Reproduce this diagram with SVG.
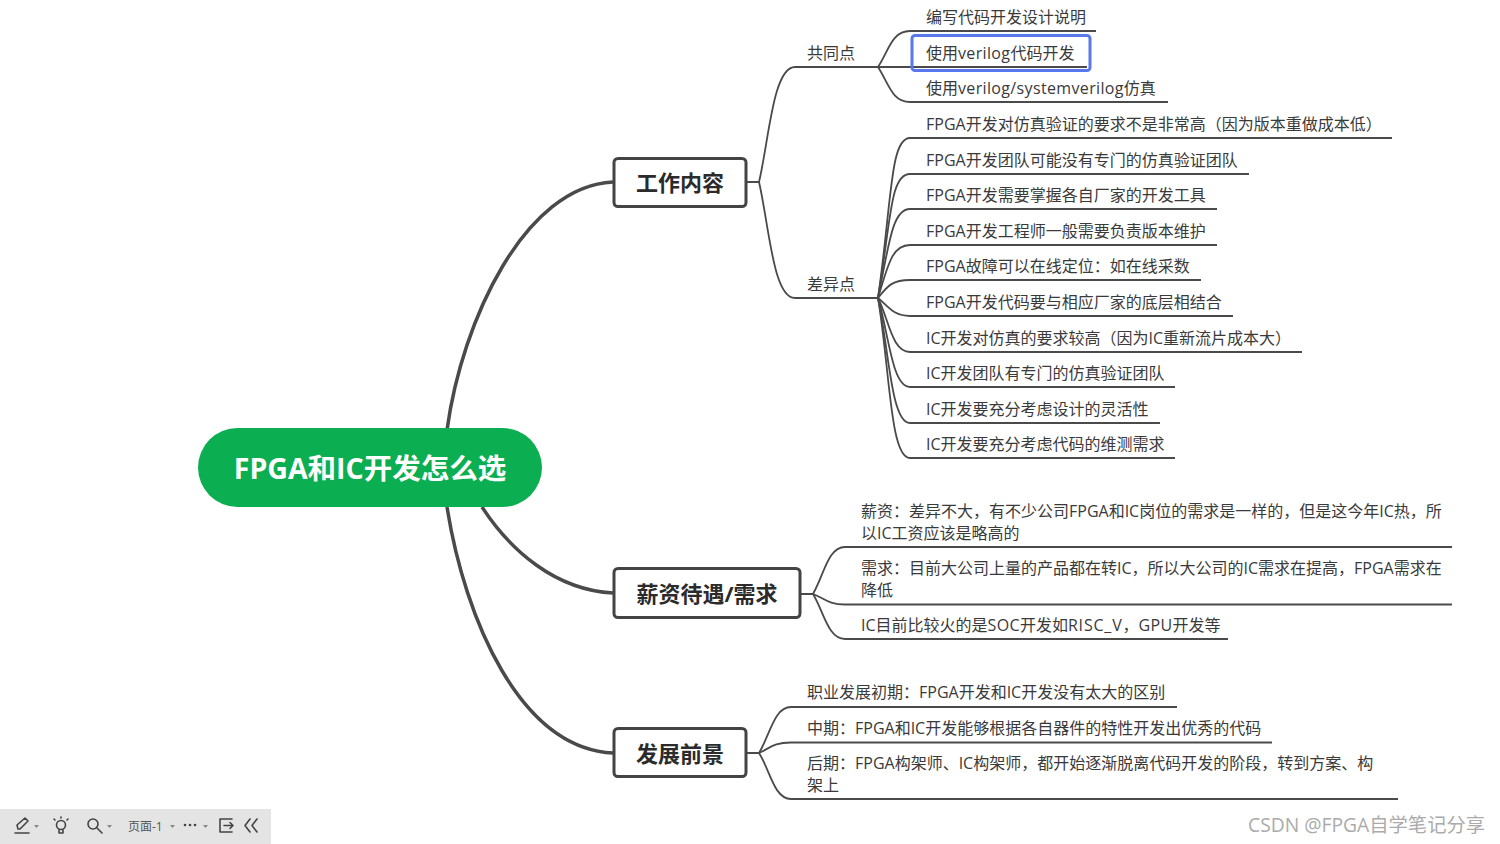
<svg xmlns="http://www.w3.org/2000/svg" width="1500" height="844" viewBox="0 0 1500 844">
<style>
text{font-family:"Open Sans","Noto Sans CJK SC",sans-serif}
.t{font-size:16px;fill:#3a3a3a}
.h{font-size:22px;font-weight:700;fill:#2b2b2b;text-anchor:middle}
.box{fill:#fff;stroke:#444;stroke-width:3}
.c{fill:none;stroke:#4a4a4a;stroke-width:1.8}
.m{fill:none;stroke:#4a4a4a;stroke-width:3.5}
.i{fill:none;stroke:#444;stroke-width:1.6;stroke-linecap:round;stroke-linejoin:round}
.w{letter-spacing:.35px}
</style>
<rect width="1500" height="844" fill="#fff"/>
<g id="connectors">
<path class="m" d="M447 430C462 320 525 186 613 182"/>
<path class="m" d="M482 507C510 550 555 590 613 593"/>
<path class="m" d="M447 507C465 620 520 748 613 753"/>
<path class="c" d="M746 182H759C769 140 773 67 795 67H878"/>
<path class="c" d="M759 182C769 225 773 298 795 298H878"/>
<path class="c" d="M878 67C889 50 892 31 910 31H1096"/>
<path class="c" d="M878 67H1087"/>
<path class="c" d="M878 67C889 84 892 102 910 102H1168"/>
<path class="c" d="M878 298C892 200 890 138 910 138H1392"/>
<path class="c" d="M878 298C891 220 890 174 910 174H1249"/>
<path class="c" d="M878 298C889 245 892 209 910 209H1217"/>
<path class="c" d="M878 298C888 265 892 245 910 245H1217"/>
<path class="c" d="M878 298C888 285 893 280 910 280H1201"/>
<path class="c" d="M878 298C888 306 893 316 910 316H1233"/>
<path class="c" d="M878 298C889 320 892 352 910 352H1302"/>
<path class="c" d="M878 298C889 335 892 387 910 387H1175"/>
<path class="c" d="M878 298C889 350 891 423 910 423H1160"/>
<path class="c" d="M878 298C890 370 890 458 910 458H1175"/>
<path class="c" d="M800 594H813C824 575 828 547 845 547H1452"/>
<path class="c" d="M813 594C824 598 828 604.500 845 604.500H1452"/>
<path class="c" d="M813 594C824 612 828 639 845 639H1228"/>
<path class="c" d="M746 753H759C770 735 774 707 791 707H1177"/>
<path class="c" d="M759 753C770 748 774 742.500 791 742.500H1272"/>
<path class="c" d="M759 753C770 770 774 799 791 799H1398"/>
</g>
<g id="root"><rect x="198" y="428" width="344" height="79" rx="39.500" fill="#0bae50"/><text x="370" y="479" font-size="28.500" font-weight="700" fill="#fff" text-anchor="middle">FPGA和IC开发怎么选</text></g>
<g id="n-work"><rect class="box" x="614" y="158.500" width="132" height="48" rx="4"/><text class="h" x="680" y="191">工作内容</text></g>
<g id="n-pay"><rect class="box" x="614" y="568.500" width="186" height="49" rx="4"/><text class="h" x="707" y="602">薪资待遇/需求</text></g>
<g id="n-future"><rect class="box" x="614" y="728.500" width="132" height="48" rx="4"/><text class="h" x="680" y="762">发展前景</text></g>
<g id="a-common"><text class="t" x="807" y="59">共同点</text></g>
<g id="a-diff"><text class="t" x="807" y="290">差异点</text></g>
<g id="c1"><text class="t" x="926" y="23">编写代码开发设计说明</text></g>
<g id="c2"><rect x="912" y="35.500" width="178" height="35" rx="3" fill="none" stroke="#5a78ee" stroke-width="3"/><text class="t" x="926" y="59">使用<tspan class="w">verilog</tspan>代码开发</text></g>
<g id="c3"><text class="t" x="926" y="94">使用<tspan class="w">verilog/systemverilog</tspan>仿真</text></g>
<g id="d1"><text class="t" x="926" y="130">FPGA开发对仿真验证的要求不是非常高（因为版本重做成本低）</text></g>
<g id="d2"><text class="t" x="926" y="166">FPGA开发团队可能没有专门的仿真验证团队</text></g>
<g id="d3"><text class="t" x="926" y="201">FPGA开发需要掌握各自厂家的开发工具</text></g>
<g id="d4"><text class="t" x="926" y="237">FPGA开发工程师一般需要负责版本维护</text></g>
<g id="d5"><text class="t" x="926" y="272">FPGA故障可以在线定位：如在线采数</text></g>
<g id="d6"><text class="t" x="926" y="308">FPGA开发代码要与相应厂家的底层相结合</text></g>
<g id="d7"><text class="t" x="926" y="344">IC开发对仿真的要求较高（因为IC重新流片成本大）</text></g>
<g id="d8"><text class="t" x="926" y="379">IC开发团队有专门的仿真验证团队</text></g>
<g id="d9"><text class="t" x="926" y="415">IC开发要充分考虑设计的灵活性</text></g>
<g id="d10"><text class="t" x="926" y="450">IC开发要充分考虑代码的维测需求</text></g>
<g id="p1"><text class="t" x="861" y="517">薪资：差异不大，有不少公司FPGA和IC岗位的需求是一样的，但是这今年IC热，所</text><text class="t" x="861" y="539">以IC工资应该是略高的</text></g>
<g id="p2"><text class="t" x="861" y="574">需求：目前大公司上量的产品都在转IC，所以大公司的IC需求在提高，FPGA需求在</text><text class="t" x="861" y="596">降低</text></g>
<g id="p3"><text class="t" x="861" y="631">IC目前比较火的是<tspan class="w">SOC</tspan>开发如<tspan style="letter-spacing:.8px">RISC_V</tspan>，<tspan class="w">GPU</tspan>开发等</text></g>
<g id="f1"><text class="t" x="807" y="698">职业发展初期：FPGA开发和IC开发没有太大的区别</text></g>
<g id="f2"><text class="t" x="807" y="734">中期：FPGA和IC开发能够根据各自器件的特性开发出优秀的代码</text></g>
<g id="f3"><text class="t" x="807" y="769">后期：FPGA构架师、IC构架师，都开始逐渐脱离代码开发的阶段，转到方案、构</text><text class="t" x="807" y="791">架上</text></g>
<g id="toolbar">
<rect x="0" y="809" width="271" height="35" fill="#e4e4e4"/>
<path class="i" d="M15 833H29M18 829L17 825L25 818L28 821L20 829Z"/>
<path d="M34 825h5l-2.500 3z M107 825h5l-2.500 3z M170 825h5l-2.500 3z M203 825h5l-2.500 3z" fill="#888"/>
<circle class="i" cx="61" cy="825" r="4.500"/>
<path class="i" d="M59 830V833H63V830M61 817V818M54 819L55 820M68 819L67 820"/>
<circle class="i" cx="93" cy="824" r="5" stroke-width="2"/>
<path class="i" d="M97 828L102 833" stroke-width="2.500"/>
<text x="128" y="831" font-size="12" fill="#555">页面-1</text>
<circle cx="185" cy="825" r="1.300" fill="#444"/><circle cx="190" cy="825" r="1.300" fill="#444"/><circle cx="195" cy="825" r="1.300" fill="#444"/>
<path class="i" d="M232 819H220V832H232M224 825.500H233M230 822.500L233 825.500L230 828.500"/>
<path class="i" d="M250 819L245 825.500L250 832M257 819L252 825.500L257 832"/>
</g>
<text id="watermark" x="1485" y="832" font-size="19.300" fill="#ababab" text-anchor="end">CSDN @FPGA自学笔记分享</text>
</svg>
